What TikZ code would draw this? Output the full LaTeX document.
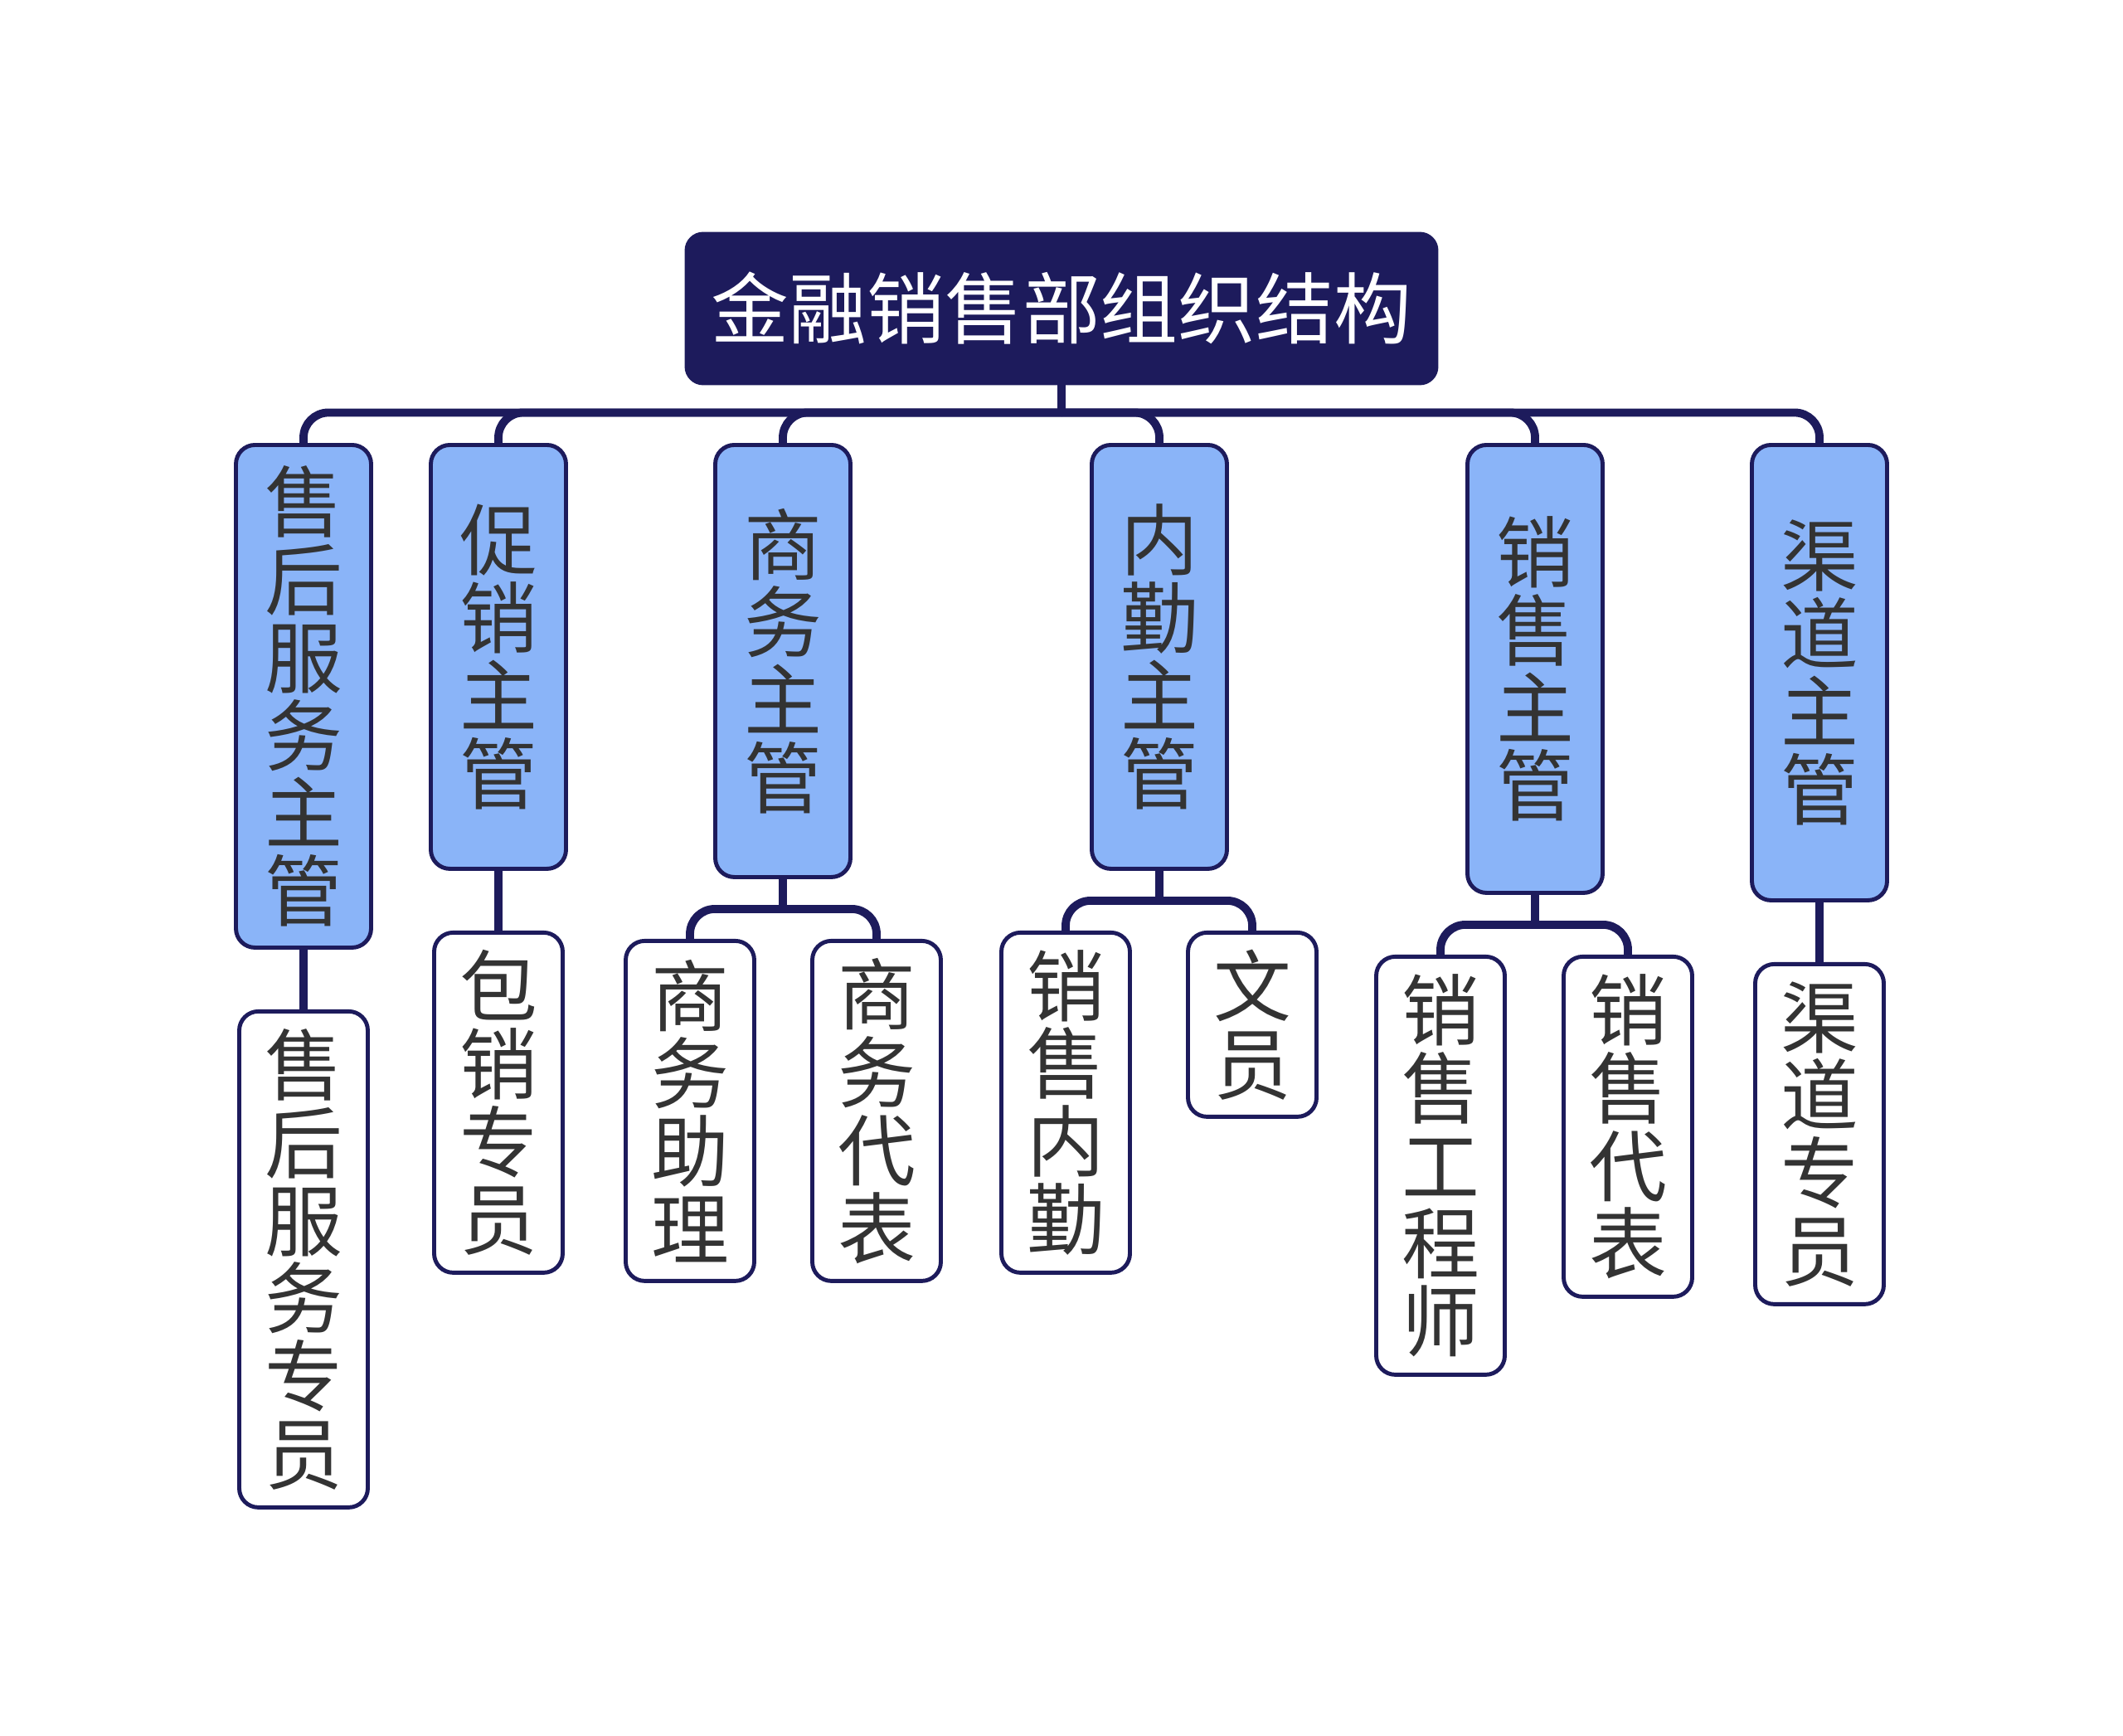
\documentclass[tikz,border=0pt]{standalone}
\usepackage{fontspec}
\newfontfamily\cjk{Noto Sans CJK SC}
\usetikzlibrary{positioning}
\definecolor{navy}{HTML}{1D1B5C}
\definecolor{mgrblue}{HTML}{8AB4F8}
\definecolor{txtgray}{HTML}{333333}
\tikzset{
  topbox/.style={draw=navy,fill=navy,text=white,rounded corners=0.2cm,line width=1.4pt,minimum width=9.04cm,minimum height=1.8cm,inner sep=0pt},
  mgr/.style={draw=navy,fill=mgrblue,text=txtgray,rounded corners=0.23cm,line width=1.4pt,minimum width=1.63cm,inner sep=0pt,align=center,anchor=north},
  staff/.style={draw=navy,fill=white,text=txtgray,rounded corners=0.23cm,line width=1.4pt,minimum width=1.55cm,inner sep=0pt,align=center,anchor=north},
  link/.style={draw=navy,line width=2.8pt,rounded corners=0.3cm}
}
\begin{document}
\begin{tikzpicture}[font=\cjk\fontsize{26.7pt}{26.7pt}\selectfont]
\useasboundingbox (0,0) rectangle (25.60,-20.93);
\node[topbox] (top) at (12.80,-3.72) {金融销售部组织结构};
% managers
\node[mgr,minimum height=6.06cm] (n1) at (3.66,-5.34) {售\\后\\服\\务\\主\\管};
\node[mgr,minimum height=5.11cm] (n2) at (6.01,-5.34) {促\\销\\主\\管};
\node[mgr,minimum height=5.21cm] (n3) at (9.44,-5.34) {商\\务\\主\\管};
\node[mgr,minimum height=5.11cm] (n4) at (13.98,-5.34) {内\\勤\\主\\管};
\node[mgr,minimum height=5.40cm] (n5) at (18.51,-5.34) {销\\售\\主\\管};
\node[mgr,minimum height=5.49cm] (n6) at (21.94,-5.34) {渠\\道\\主\\管};
% staff
\node[staff,minimum height=5.98cm,below=0.72cm of n1] (m1) {售\\后\\服\\务\\专\\员};
\node[staff,minimum height=4.10cm,below=0.72cm of n2] (m2) {包\\销\\专\\员};
\node[staff,minimum height=4.10cm,below=0.72cm of n3,xshift=-1.12cm] (m3) {商\\务\\助\\理};
\node[staff,minimum height=4.10cm,below=0.72cm of n3,xshift=1.13cm] (m4) {商\\务\\代\\表};
\node[staff,minimum height=4.10cm,below=0.72cm of n4,xshift=-1.13cm] (m5) {销\\售\\内\\勤};
\node[staff,minimum height=2.22cm,below=0.72cm of n4,xshift=1.12cm] (m6) {文\\员};
\node[staff,minimum height=5.04cm,below=0.72cm of n5,xshift=-1.14cm] (m7) {销\\售\\工\\程\\师};
\node[staff,minimum height=4.10cm,below=0.72cm of n5,xshift=1.12cm] (m8) {销\\售\\代\\表};
\node[staff,minimum height=4.10cm,below=0.72cm of n6] (m9) {渠\\道\\专\\员};
% links
\coordinate[below=0.33cm of top] (bar);
\draw[link] (top) -- (bar);
\foreach \k in {1,...,6} \draw[link] (bar) -| (n\k);
\coordinate[below=0.36cm of n3] (b3);
\coordinate[below=0.36cm of n4] (b4);
\coordinate[below=0.36cm of n5] (b5);
\draw[link] (n3) -- (b3);
\draw[link] (b3) -| (m3);
\draw[link] (b3) -| (m4);
\draw[link] (n4) -- (b4);
\draw[link] (b4) -| (m5);
\draw[link] (b4) -| (m6);
\draw[link] (n5) -- (b5);
\draw[link] (b5) -| (m7);
\draw[link] (b5) -| (m8);
\draw[link] (n1) -- (m1);
\draw[link] (n2) -- (m2);
\draw[link] (n6) -- (m9);
\end{tikzpicture}
\end{document}
